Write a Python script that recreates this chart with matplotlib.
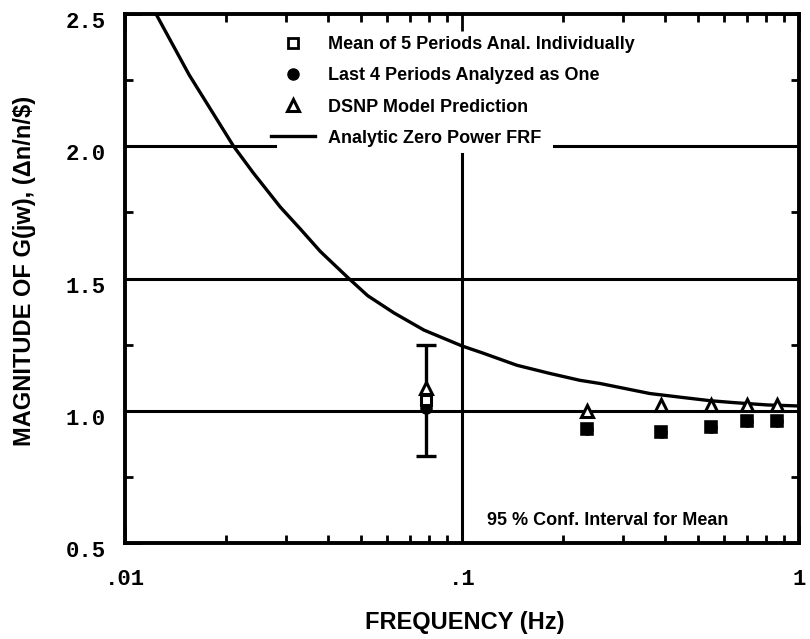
import matplotlib
matplotlib.use("Agg")
import matplotlib.pyplot as plt
from matplotlib import font_manager
from matplotlib.ticker import FixedLocator, NullFormatter, LogLocator
from matplotlib.transforms import ScaledTranslation

# fonts: condensed bold sans for words, bold mono for numbers
names = {f.name for f in font_manager.fontManager.ttflist}
narrow = "Liberation Sans Narrow" if "Liberation Sans Narrow" in names else "Liberation Sans"
mono = "Liberation Mono"

# analytic zero power FRF
frf_freq = [0.01236, 0.0155, 0.0210, 0.0240, 0.0289, 0.0332, 0.0380, 0.0458,
            0.0525, 0.0628, 0.0771, 0.100, 0.1154, 0.1455, 0.1824, 0.2239,
            0.257, 0.3614, 0.453, 0.545, 0.637, 0.804, 1.0]
frf_mag = [2.50, 2.27, 2.00, 1.90, 1.77, 1.686, 1.602, 1.504,
           1.435, 1.370, 1.305, 1.245, 1.218, 1.172, 1.141, 1.115,
           1.103, 1.065, 1.050, 1.038, 1.031, 1.022, 1.018]

# measured / predicted points at the odd harmonics
freq = [0.0781, 0.2344, 0.3906, 0.5469, 0.7031, 0.8594]
mean_5 = [1.04, 0.93, 0.92, 0.94, 0.96, 0.96]
last_4 = [1.01, 0.93, 0.92, 0.94, 0.96, 0.96]
dsnp = [1.085, 1.00, 1.02, 1.02, 1.02, 1.02]

# 95% confidence interval on the mean at the fundamental
ci_freq = 0.0781
ci_mean = 1.04
ci_half = 0.21

fig = plt.figure(figsize=(8.1, 6.39), dpi=100)
ax = fig.add_axes([125 / 810, 1 - 543 / 639, 674 / 810, 529 / 639])

ax.set_xscale("log")
ax.set_xlim(0.01, 1)
ax.set_ylim(0.5, 2.5)

# grid lines drawn as plain heavy lines, broken where the key sits
ax.axhline(1.0, color="black", lw=2.2, zorder=1)
ax.axhline(1.5, color="black", lw=2.2, zorder=1)
ax.axhline(2.0, xmax=0.222, color="black", lw=2.2, zorder=1)
ax.axhline(2.0, xmin=0.636, color="black", lw=2.2, zorder=1)
ax.axvline(0.1, ymax=0.735, color="black", lw=2.2, zorder=1)

line, = ax.plot(frf_freq, frf_mag, color="black", lw=2.4, zorder=2,
                label="Analytic Zero Power FRF")

ax.errorbar([ci_freq], [ci_mean], yerr=[ci_half], fmt="none", ecolor="black",
            elinewidth=2.4, capsize=7, capthick=2.4, zorder=3)

circ, = ax.plot(freq, last_4, "o", ms=8, mfc="black", mec="black", zorder=4,
                label="Last 4 Periods Analyzed as One")
# squares sit on top of the circles; the first one keeps a white face
ax.plot(freq[1:], mean_5[1:], "s", ms=7.5, mfc="none", mec="black", mew=2.6, zorder=4)
ax.plot(freq[:1], mean_5[:1], "s", ms=7.5, mfc="white", mec="black", mew=2.2, zorder=5)
tri, = ax.plot(freq, dsnp, "^", ms=9, mfc="white", mec="black", mew=2.2,
               zorder=5, label="DSNP Model Prediction")

sq_leg, = ax.plot([], [], "s", ms=7, mfc="white", mec="black", mew=2.0,
                  label="Mean of 5 Periods Anal. Individually")

handles = [sq_leg, circ, tri, line]
leg = ax.legend(handles, [h.get_label() for h in handles],
                loc="upper left", bbox_to_anchor=(0.205, 0.973), borderaxespad=0,
                frameon=False, handlelength=2.4, handletextpad=0.75,
                labelspacing=0.78, borderpad=0.45,
                prop={"family": narrow, "weight": "bold", "size": 13})
leg.set_zorder(10)

ax.text(0.1185, 0.585, "95 % Conf. Interval for Mean", fontfamily=narrow,
        fontweight="bold", fontsize=13, va="center", ha="left")

# ticks
ax.xaxis.set_major_locator(FixedLocator([0.01, 0.1, 1]))
ax.set_xticklabels([".01", ".1", "1"])
ax.xaxis.set_minor_locator(LogLocator(base=10, subs=range(2, 10)))
ax.xaxis.set_minor_formatter(NullFormatter())
ax.yaxis.set_major_locator(FixedLocator([0.5, 1.0, 1.5, 2.0, 2.5]))
ax.set_yticklabels(["0.5", "1.0", "1.5", "2.0", "2.5"])
ax.yaxis.set_minor_locator(FixedLocator([0.75, 1.25, 1.75, 2.25]))

ax.tick_params(which="both", direction="in", top=True, right=True, width=2)
ax.tick_params(which="major", length=12)
ax.tick_params(which="minor", length=6)
ax.tick_params(axis="y", which="major", pad=14)
ax.tick_params(axis="x", which="major", pad=19)
for lab in ax.get_xticklabels() + ax.get_yticklabels():
    lab.set_fontfamily(mono)
    lab.set_fontweight("bold")
    lab.set_fontsize(16)
# y numbers sit a little below their lines
shift = ScaledTranslation(0, -6 / 100, fig.dpi_scale_trans)
for lab in ax.get_yticklabels():
    lab.set_transform(lab.get_transform() + shift)

for sp in ax.spines.values():
    sp.set_linewidth(2.8)

fig.text(25 / 810, 1 - 271 / 639, "MAGNITUDE OF G(jw), (\u0394n/n/$)", rotation=90,
         ha="center", va="center", fontfamily=narrow, fontweight="bold", fontsize=17)
fig.text(465 / 810, 1 - 622 / 639, "FREQUENCY (Hz)", ha="center", va="center",
         fontfamily=narrow, fontweight="bold", fontsize=17)

fig.savefig("out.png", dpi=100)
